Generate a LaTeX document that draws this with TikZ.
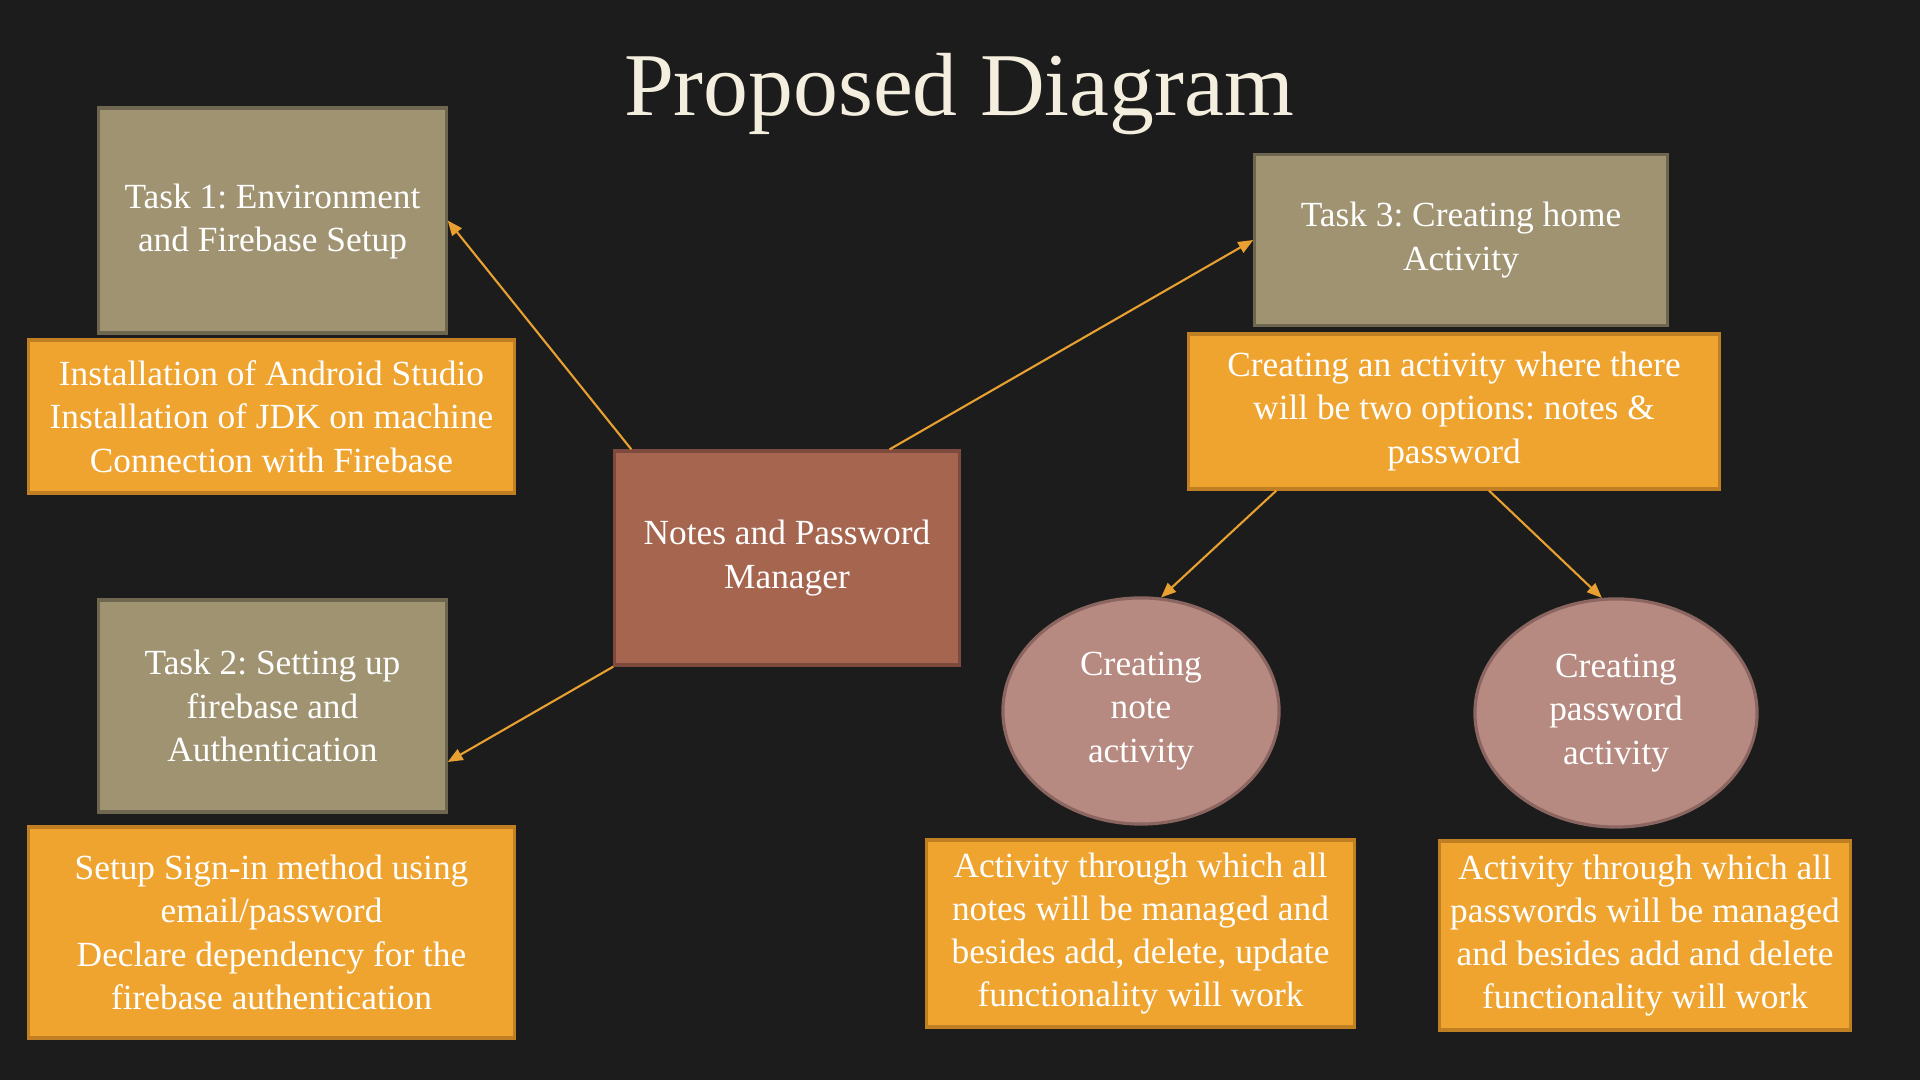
\documentclass[tikz,border=0pt]{standalone}
\usepackage{fontspec}
\setmainfont{Liberation Serif}
\usetikzlibrary{arrows.meta,shapes.geometric}
\definecolor{bgdark}{HTML}{1C1C1C}
\definecolor{taskfill}{HTML}{A09371}
\definecolor{taskline}{HTML}{6F6650}
\definecolor{notefill}{HTML}{EFA430}
\definecolor{noteline}{HTML}{C07F22}
\definecolor{hubfill}{HTML}{A5654F}
\definecolor{hubline}{HTML}{7E4A3D}
\definecolor{actfill}{HTML}{B68A80}
\definecolor{actline}{HTML}{8B6660}
\definecolor{linkcol}{HTML}{E8A030}
\definecolor{titlecol}{HTML}{F3EEDD}
\frenchspacing
\tikzset{
  boxtext/.style={text=white, align=center, font=\fontsize{10.05}{12.3}\selectfont, inner sep=0pt},
  taskbox/.style={boxtext, rectangle, fill=taskfill, draw=taskline, line width=0.9pt},
  notebox/.style={boxtext, rectangle, fill=notefill, draw=noteline, line width=0.9pt},
  hubbox/.style={boxtext, rectangle, fill=hubfill, draw=hubline, line width=0.9pt},
  actnode/.style={boxtext, ellipse, fill=actfill, draw=actline, line width=0.9pt},
  link/.style={draw=linkcol, line width=0.6pt, -{Triangle[length=0.15cm,width=0.12cm]}}
}
\begin{document}
\begin{tikzpicture}[x=0.01cm,y=-0.01cm]
  % page and background
  \fill[bgdark] (0,0) rectangle (1920,1080);
  \useasboundingbox (0,0) rectangle (1920,1080);

  % title
  \node[anchor=base, text=titlecol, font=\fontsize{25.5}{30}\selectfont, inner sep=0pt] (title) at (959,116) {Proposed Diagram};

  % left column
  \node[taskbox, minimum width=3.47cm, minimum height=2.25cm, text depth=0.05cm] (t1) at (272.5,220.5) {Task 1: Environment\\and Firebase Setup};
  \node[notebox, minimum width=4.85cm, minimum height=1.53cm] (n1) at (271.5,416.5) {Installation of Android Studio\\Installation of JDK on machine\\Connection with Firebase};
  \node[taskbox, minimum width=3.47cm, minimum height=2.12cm] (t2) at (272.5,706) {Task 2: Setting up\\firebase and\\Authentication};
  \node[notebox, minimum width=4.85cm, minimum height=2.11cm] (n2) at (271.5,932.5) {Setup Sign-in method using\\email/password\\Declare dependency for the\\firebase authentication};

  % central node
  \node[hubbox, minimum width=3.44cm, minimum height=2.14cm] (hub) at (787,558) {Notes and Password\\Manager};

  % right side
  \node[taskbox, minimum width=4.12cm, minimum height=1.71cm] (t3) at (1461,240) {Task 3: Creating home\\Activity};
  \node[notebox, minimum width=5.30cm, minimum height=1.55cm] (n3) at (1454,411.5) {Creating an activity where there\\will be two options: notes \&\\password};
  \node[actnode, minimum width=2.76cm, minimum height=2.26cm] (e1) at (1141,711) {Creating\\note\\activity};
  \node[actnode, minimum width=2.82cm, minimum height=2.28cm] (e2) at (1616,713) {Creating\\password\\activity};
  \node[notebox, minimum width=4.27cm, minimum height=1.87cm] (n4) at (1140.5,933.5) {Activity through which all\\notes will be managed and\\besides add, delete, update\\functionality will work};
  \node[notebox, minimum width=4.10cm, minimum height=1.89cm] (n5) at (1645,935.5) {Activity through which all\\passwords will be managed\\and besides add and delete\\functionality will work};

  % connectors
  \draw[link] ([xshift=0.18cm]hub.north west) -- (t1.east);
  \draw[link] ([xshift=-0.71cm]hub.north east) -- (t3.west);
  \draw[link] (hub.south west) -- ([yshift=-0.56cm]t2.east);
  \draw[link] ([xshift=0.89cm]n3.south west) -- (e1.80);
  \draw[link] ([xshift=0.35cm]n3.south) -- (e2.97);
\end{tikzpicture}
\end{document}
